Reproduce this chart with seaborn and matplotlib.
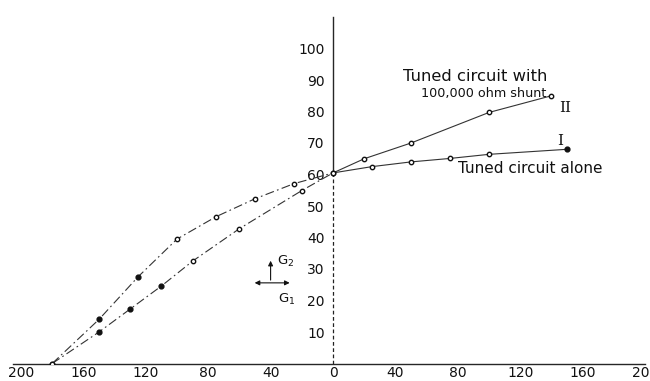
import numpy as np
import pandas as pd
import matplotlib
matplotlib.use("Agg")
import matplotlib.pyplot as plt
import seaborn as sns

# curve I: tuned circuit alone
c1_x = [-180, -150, -125, -100, -75, -50, -25, 0, 25, 50, 75, 100, 150]
c1_y = [0, 14, 27.5, 39.5, 46.6, 52.3, 57.1, 60.5, 62.5, 64, 65.1, 66.4, 68]
c1_fill = [0, 1, 1, 0, 0, 0, 0, 0, 0, 0, 0, 0, 1]

# curve II: tuned circuit with 100,000 ohm shunt
c2_x = [-180, -150, -130, -110, -90, -60, -20, 0, 20, 50, 100, 140]
c2_y = [0, 10, 17.3, 24.6, 32.5, 42.8, 54.9, 60.5, 65, 70, 79.7, 85]
c2_fill = [0, 1, 1, 1, 0, 0, 0, 0, 0, 0, 0, 0]

x_ticks = [-200, -160, -120, -80, -40, 0, 40, 80, 120, 160, 200]
y_ticks = [10, 20, 30, 40, 50, 60, 70, 80, 90, 100]

df = pd.concat([
    pd.DataFrame({"x": c1_x, "y": c1_y, "filled": c1_fill, "curve": "I"}),
    pd.DataFrame({"x": c2_x, "y": c2_y, "filled": c2_fill, "curve": "II"}),
], ignore_index=True)

sns.set_style("white")
plt.rcParams["font.family"] = ["DejaVu Sans"]

fig = plt.figure(figsize=(6.5, 3.81), dpi=100)
ax = fig.add_axes([13.2 / 650, 17.5 / 381, 631.8 / 650, 346.5 / 381])

# left halves dash-dot, right halves solid
for curve in ["I", "II"]:
    left = df[(df.curve == curve) & (df.x <= 0)]
    right = df[(df.curve == curve) & (df.x >= 0)]
    sns.lineplot(data=left, x="x", y="y", ax=ax, color="#333333", lw=0.8,
                 sort=False, estimator=None)
    ax.lines[-1].set_dashes([8, 3, 1.5, 3])
    sns.lineplot(data=right, x="x", y="y", ax=ax, color="#333333", lw=0.8,
                 sort=False, estimator=None)

sns.scatterplot(data=df[df.filled == 0], x="x", y="y", ax=ax, s=10,
                facecolor="white", edgecolor="#111111", linewidth=1.0, zorder=5)
sns.scatterplot(data=df[df.filled == 1], x="x", y="y", ax=ax, s=12,
                color="#111111", edgecolor="#111111", linewidth=1.0, zorder=5)

ax.set_xlim(-205, 200)
ax.set_ylim(0, 110)
ax.set_xlabel("")
ax.set_ylabel("")

for s in ["top", "right"]:
    ax.spines[s].set_visible(False)
ax.spines["left"].set_position(("data", 0))
ax.spines["left"].set_bounds(60, 110)
ax.spines["left"].set_linewidth(1.0)
ax.spines["bottom"].set_linewidth(1.0)
ax.plot([0, 0], [0, 60], color="#222222", lw=0.9, ls=(0, (3, 2)), zorder=1)

ax.set_xticks(x_ticks)
ax.set_xticklabels([str(abs(v)) for v in x_ticks])
ax.set_yticks(y_ticks)
ax.set_yticklabels([str(v) for v in y_ticks])
ax.tick_params(axis="x", direction="in", length=4, width=0.9, pad=1.5,
               labelsize=10, colors="#111111")
ax.tick_params(axis="y", direction="inout", length=6, width=0.9, pad=3,
               labelsize=10, colors="#111111")

ax.text(45, 91, "Tuned circuit with", fontsize=11.8, color="#111111",
        ha="left", va="center")
ax.text(137, 85.6, "100,000 ohm shunt", fontsize=9.2, color="#111111",
        ha="right", va="center")
ax.text(145, 81, "II", fontsize=11, color="#111111", ha="left",
        va="center", family="DejaVu Serif")
ax.text(144, 70.5, "I", fontsize=11, color="#111111", ha="left",
        va="center", family="DejaVu Serif")
ax.text(80, 62, "Tuned circuit alone", fontsize=11, color="#111111",
        ha="left", va="center")

# G1 / G2 direction key
ax.annotate("", xy=(-40, 33.5), xytext=(-40, 25.6),
            arrowprops=dict(arrowstyle="-|>", lw=0.8, color="#111111",
                            mutation_scale=7))
ax.annotate("", xy=(-52, 25.6), xytext=(-26, 25.6),
            arrowprops=dict(arrowstyle="<|-|>", lw=0.8, color="#111111",
                            mutation_scale=7))
ax.text(-36, 32.5, "G$_2$", fontsize=9.5, color="#111111", ha="left", va="center")
ax.text(-35, 20.3, "G$_1$", fontsize=9.5, color="#111111", ha="left", va="center")

fig.savefig("out.png", dpi=100, facecolor="white")
